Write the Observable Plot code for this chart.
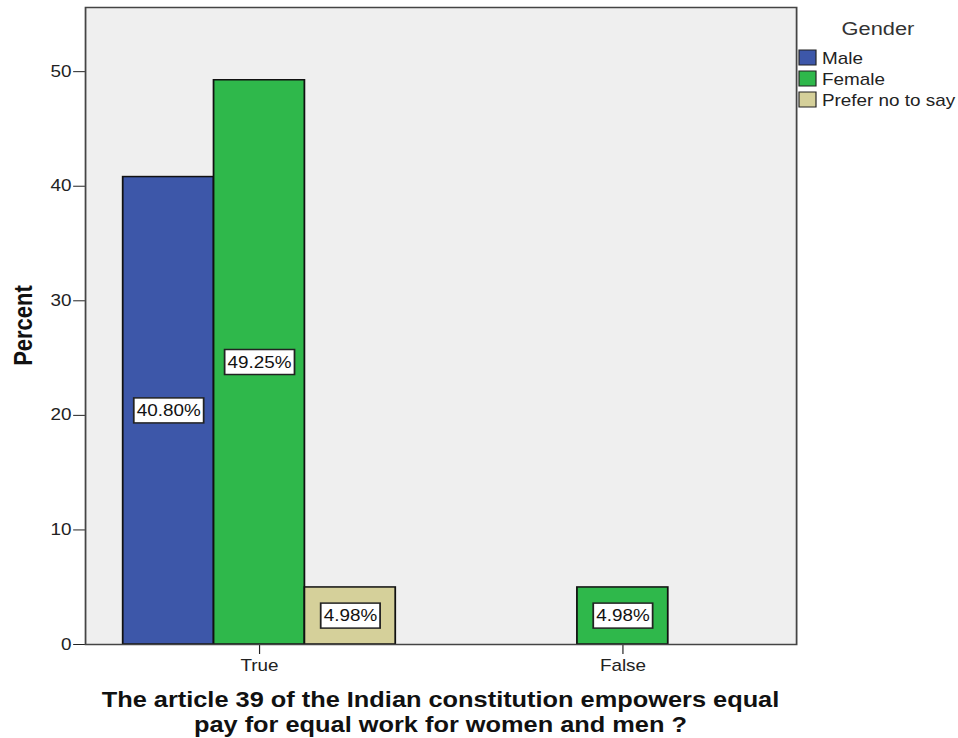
<!DOCTYPE html>
<html><head><meta charset="utf-8">
<script src="https://cdn.jsdelivr.net/npm/d3@7"></script>
<script src="https://cdn.jsdelivr.net/npm/@observablehq/plot@0.6"></script>
<style>
body{margin:0;background:#fff}
#chart{position:relative;width:958px;height:738px;overflow:hidden}
</style>
</head><body><div id="chart"></div>
<script>
// ---- data ----
const categories = ["True", "False"];
const genders = ["Male", "Female", "Prefer no to say"];
const valuesTrue = [40.80, 49.25, 4.98];
const valuesFalse = [null, 4.98, null];
const yTicks = [0, 10, 20, 30, 40, 50];
const yMax = 55.6;
const genderColors = ["#3d57a9", "#2fb84b", "#d5d09a"];
const xTitle = ["The article 39 of the Indian constitution empowers equal", "pay for equal work for women and men ?"];
const yTitle = "Percent";
const legendTitle = "Gender";

// ---- layout ----
const W = 812, H = 738;
const S = 958 / W; // horizontal stretch of the original picture
const mL = 72, mR = 137.3, mT = 7, mB = 94;
const FONT = "'Liberation Sans', Arial, sans-serif";

const seriesByCat = [valuesTrue, valuesFalse];
const rows = [];
categories.forEach((c, i) => genders.forEach((g, j) => {
  const v = seriesByCat[i][j];
  if (v != null) rows.push({key: c + "|" + g, cat: c, gender: g, value: v});
}));
const domain = [];
categories.forEach((c, i) => {
  if (i > 0) domain.push("gap" + i);
  genders.forEach(g => domain.push(c + "|" + g));
});
const tickKeys = categories.map(c => c + "|" + genders[1]);

const svg = Plot.plot({
  width: W, height: H,
  marginLeft: mL, marginRight: mR, marginTop: mT, marginBottom: mB,
  style: {fontFamily: FONT, fontSize: "16px", color: "#222", background: "transparent"},
  x: {domain, paddingInner: 0, paddingOuter: 0.37, ticks: tickKeys,
      tickFormat: k => k.split("|")[0], tickSize: 10, tickPadding: 5, label: null},
  y: {domain: [0, yMax], ticks: yTicks, tickSize: 10, tickPadding: 2, label: null},
  color: {domain: genders, range: genderColors},
  marks: [
    Plot.frame({fill: "#efefef", stroke: "none"}),
    Plot.barY(rows, {x: "key", y: "value", fill: "gender", stroke: "#111", strokeWidth: 1.5}),
    Plot.text(rows, {x: "key", y: d => d.value / 2, text: d => d.value.toFixed(2) + "%", fill: "#111"}),
    Plot.frame({stroke: "#444", strokeWidth: 1.5})
  ]
});

document.getElementById("chart").appendChild(svg);
svg.setAttribute("preserveAspectRatio", "none");
svg.setAttribute("width", 958);
svg.setAttribute("height", 738);
svg.style.width = "958px";
svg.style.height = "738px";
svg.style.maxWidth = "none";

// white boxes behind value labels
svg.querySelectorAll('g[aria-label="text"] text').forEach(t => {
  const b = t.getBBox();
  const r = document.createElementNS("http://www.w3.org/2000/svg", "rect");
  const padX = 2.5, h = 25;
  r.setAttribute("x", b.x - padX);
  r.setAttribute("y", b.y + b.height / 2 - h / 2);
  r.setAttribute("width", b.width + 2 * padX);
  r.setAttribute("height", h);
  r.setAttribute("fill", "#fff");
  r.setAttribute("stroke", "#222");
  r.setAttribute("stroke-width", 1.5);
  if (t.getAttribute("transform")) r.setAttribute("transform", t.getAttribute("transform"));
  t.parentNode.insertBefore(r, t);
});

// legend, axis titles
const g = d3.select(svg).append("g").attr("font-family", FONT).attr("fill", "#222");
g.append("text").attr("x", 878 / S).attr("y", 35).attr("text-anchor", "middle")
  .attr("font-size", 18.5).attr("fill", "#333").text(legendTitle);
genders.forEach((gn, i) => {
  const y0 = 50 + i * 21;
  g.append("rect").attr("x", 799 / S).attr("y", y0).attr("width", 17 / S).attr("height", 15)
    .attr("fill", genderColors[i]).attr("stroke", "#222").attr("stroke-width", 1);
  g.append("text").attr("x", 822 / S).attr("y", y0 + 14).attr("text-anchor", "start")
    .attr("font-size", 16).text(gn);
});
const cx = (mL + (W - mR)) / 2;
xTitle.forEach((line, i) => g.append("text").attr("x", cx).attr("y", 706.7 + 25 * i)
  .attr("text-anchor", "middle").attr("font-weight", "bold").attr("font-size", 21.5)
  .attr("fill", "#111").text(line));
g.append("text").attr("transform", `translate(27,${(mT + (H - mB)) / 2}) rotate(-90)`)
  .attr("text-anchor", "middle").attr("font-weight", "bold").attr("font-size", 22)
  .attr("fill", "#111").text(yTitle);
</script>
</body></html>
